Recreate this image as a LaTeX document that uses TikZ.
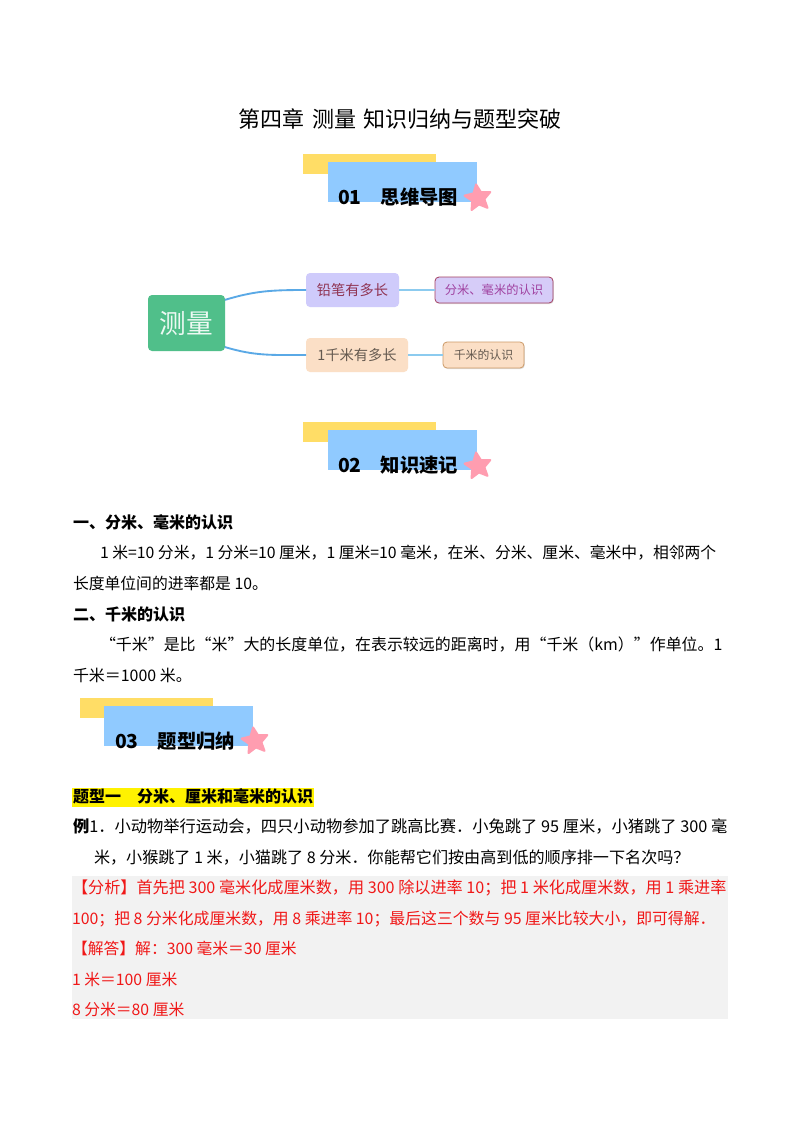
\documentclass[tikz,border=0pt]{standalone}
\usepackage{fontspec}
\setmainfont{Noto Sans CJK SC}
\usetikzlibrary{shapes.geometric,shadows}
\definecolor{bannerY}{HTML}{FFDD66}
\definecolor{bannerB}{HTML}{90CAFF}
\definecolor{starP}{HTML}{FF9DB0}
\definecolor{rootG}{HTML}{50BF8A}
\definecolor{linkA}{HTML}{5AA9E6}
\definecolor{linkB}{HTML}{8CCBEF}
\definecolor{purA}{HTML}{CFCBFB}
\definecolor{purB}{HTML}{D6CCF8}
\definecolor{orgA}{HTML}{FBDFC6}
\definecolor{panel}{HTML}{F2F2F2}
\definecolor{redtext}{HTML}{F01818}
\newcommand{\fs}[1]{\fontsize{#1}{#1}\selectfont}
\tikzset{
  box/.style={inner sep=0pt,outer sep=0pt},
  ybar/.style={box,fill=bannerY,minimum width=99.75pt,minimum height=15pt,anchor=north west},
  bbar/.style={box,fill=bannerB,minimum width=112pt,minimum height=30pt,anchor=north west},
  pstar/.style={star,star points=5,star point ratio=2.1,fill=starP,draw=starP,line join=round,line width=1.5pt,minimum size=20.5pt,inner sep=0pt,rotate=8},
  btitle/.style={box,anchor=base west,font=\fs{14.5}\bfseries},
  line/.style={box,anchor=base west,font=\fs{#1}},
  line/.default=12,
  rline/.style={line=#1,text=redtext},
  rline/.default=12,
  head/.style={box,anchor=base west,font=\fs{12}\bfseries},
  mm/.style={box,rounded corners=3pt},
  leaf/.style={mm,drop shadow={shadow xshift=0.6pt,shadow yshift=-0.8pt,opacity=.25}},
  lk/.style={line width=1.4pt,linkA},
  lks/.style={line width=1pt,linkB}
}
\begin{document}
\begin{tikzpicture}[x=0.75pt,y=-0.75pt]
\useasboundingbox (0,0) rectangle (800,1132);
\fill[white] (0,0) rectangle (800,1132);
\node[box,anchor=base,font=\fs{16.5}] (title) at (400,127) {第四章\hspace{0.32em}测量\hspace{0.32em}知识归纳与题型突破};
% banner 1
\node[ybar] (y1) at (303,154) {};
\node[bbar] (b1) at (328,162) {};
\node[pstar] (s1) at (478,198) {};
\node[btitle] (t1) at (338,204) {01\hspace{1em}思维导图};
% mind map
\node[mm,fill=rootG,minimum width=57.75pt,minimum height=42pt,text=white!90!rootG,font=\fs{20}] (root) at (186.5,323) {测量};
\node[mm,fill=purA,minimum width=69.75pt,minimum height=25.5pt,text=black!40!purple!80!white,font=\fs{10.7}] (pen) at (352.5,290) {铅笔有多长};
\node[leaf,fill=purB,draw=black!30!purple!75!white,line width=.6pt,minimum width=88.5pt,minimum height=19.5pt,text=violet!75!white,font=\fs{9.2}] (fen) at (494,290) {分米、毫米的认识};
\node[mm,fill=orgA,minimum width=76.5pt,minimum height=25.5pt,text=black!60!orgA,font=\fs{10.7}] (km) at (357,355) {1千米有多长};
\node[leaf,fill=orgA,draw=brown!80!white,line width=.6pt,minimum width=60.75pt,minimum height=19.5pt,text=black!60!orgA,font=\fs{8.9}] (qian) at (483.5,355) {千米的认识};
\draw[lk] (root.31) .. controls +(30,-9) and +(-35,0) .. (pen.west);
\draw[lk] (root.-32) .. controls +(30,9) and +(-35,0) .. (km.west);
\draw[lks] (pen.east) -- (fen.west);
\draw[lks] (km.east) -- (qian.west);
% banner 2
\node[ybar] (y2) at (303,422) {};
\node[bbar] (b2) at (328,430) {};
\node[pstar] (s2) at (478,466) {};
\node[btitle] (t2) at (338,472) {02\hspace{1em}知识速记};
% knowledge
\node[head] (h1) at (73,528.5) {一、分米、毫米的认识};
\node[line=11.85] (l1) at (100,558.5) {1 米=10 分米，1 分米=10 厘米，1 厘米=10 毫米，在米、分米、厘米、毫米中，相邻两个};
\node[line=11.85] (l2) at (73,589.5) {长度单位间的进率都是 10。};
\node[head] (h2) at (73,620.5) {二、千米的认识};
\node[line=11.96] (l3) at (100,650.5) {“千米”是比“米”大的长度单位，在表示较远的距离时，用“千米（km）”作单位。1};
\node[line=11.96] (l4) at (73,681.5) {千米＝1000 米。};
% banner 3
\node[ybar] (y3) at (80,698) {};
\node[bbar] (b3) at (104,705.5) {};
\node[pstar] (s3) at (255,741) {};
\node[btitle] (t3) at (115,748) {03\hspace{1em}题型归纳};
% exercise
\node[box,fill=yellow,minimum width=181.5pt,minimum height=14.25pt,anchor=north west] (hl) at (72,787.5) {};
\node[head] (h3) at (73,802.5) {题型一\hspace{1em}分米、厘米和毫米的认识};
\node[line=12.2] (l5) at (73,832.5) {\textbf{例}1．小动物举行运动会，四只小动物参加了跳高比赛．小兔跳了 95 厘米，小猪跳了 300 毫};
\node[line=12.07] (l6) at (94,863.5) {米，小猴跳了 1 米，小猫跳了 8 分米．你能帮它们按由高到低的顺序排一下名次吗？};
\node[box,fill=panel,minimum width=492pt,minimum height=107.25pt,anchor=north west] (pn) at (72,876) {};
\node[rline=12.1] (r1) at (72,893.5) {【分析】首先把 300 毫米化成厘米数，用 300 除以进率 10；把 1 米化成厘米数，用 1 乘进率};
\node[rline=11.9] (r2) at (72,924.5) {100；把 8 分米化成厘米数，用 8 乘进率 10；最后这三个数与 95 厘米比较大小，即可得解．};
\node[rline=11.85] (r3) at (72,954.5) {【解答】解：300 毫米＝30 厘米};
\node[rline=11.85] (r4) at (72,985.5) {1 米＝100 厘米};
\node[rline=11.85] (r5) at (72,1015.5) {8 分米＝80 厘米};
\end{tikzpicture}
\end{document}
